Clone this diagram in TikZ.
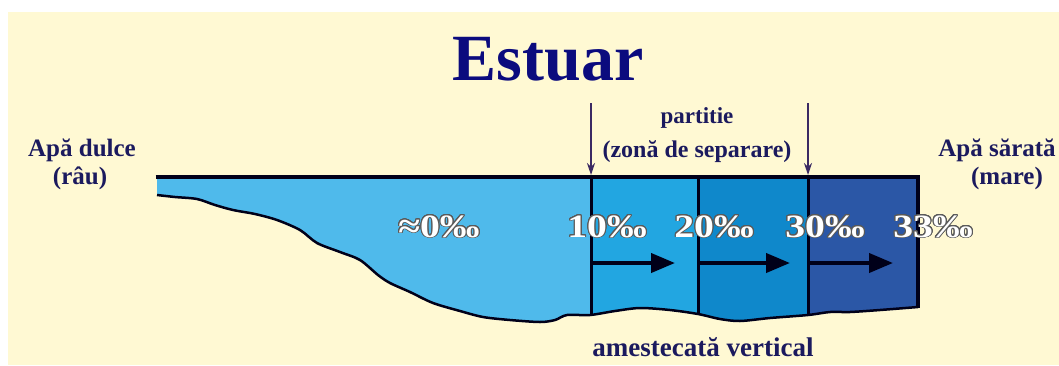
\documentclass[tikz,border=0pt]{standalone}
\usepackage{fontspec}
\setmainfont{Liberation Serif}
\usepackage{contour}
\usepackage{tikz}
\usetikzlibrary{arrows.meta,positioning}
\definecolor{cream}{HTML}{FFF9D3}
\definecolor{zone0}{HTML}{4FBAEB}
\definecolor{zone1}{HTML}{22A6E1}
\definecolor{zone2}{HTML}{0F88CB}
\definecolor{zone3}{HTML}{2B57A6}
\definecolor{titlenavy}{HTML}{0B0B7E}
\definecolor{labnavy}{HTML}{1B1A5E}
\definecolor{rodcol}{HTML}{3B2A63}
\definecolor{rim}{HTML}{5A5A5A}
\contourlength{0.8pt}
\contournumber{24}
\newcommand{\salt}[1]{\scalebox{1.28}[1.05]{\contour{rim}{\textcolor{white}{#1}}}}
% sea bed, left to right and back
\def\seabed{(157,195) (175,197) (197,199) (215,205) (233,210) (255,214) (277,220) (300,230) (317,243) (340,252) (360,260) (378,275) (390,283) (410,292) (433,303) (460,311) (483,317) (510,320) (540,322) (555,320) (567,315) (590,315) (615,311) (640,308) (670,310) (698,314) (720,319) (740,321) (770,318) (808,315) (830,312) (850,312) (880,310) (918,307)}
\def\seabedback{(918,307) (880,310) (850,312) (830,312) (808,315) (770,318) (740,321) (720,319) (698,314) (670,310) (640,308) (615,311) (590,315) (567,315) (555,320) (540,322) (510,320) (483,317) (460,311) (433,303) (410,292) (390,283) (378,275) (360,260) (340,252) (317,243) (300,230) (277,220) (255,214) (233,210) (215,205) (197,199) (175,197) (157,195)}

\begin{document}
\begin{tikzpicture}[x=1pt,y=-1pt,
    lab/.style={font=\bfseries\fontsize{25}{28}\selectfont,text=labnavy,inner sep=0pt,anchor=base},
    saltlab/.style={font=\bfseries\fontsize{31}{34}\selectfont,inner sep=0pt,anchor=base},
    flow/.style={-{Triangle[length=24pt,width=19pt]},line width=4pt,draw=black!90!blue},
    divarrow/.style={-{Stealth[length=12pt,width=8pt]},line width=1.6pt,draw=rodcol},
    rim line/.style={line width=3pt,draw=black!90!blue}]
  \useasboundingbox (0,0) rectangle (1059,365);
  \fill[cream] (8,12) rectangle (1059,365);

  % water body with salinity zones
  \begin{scope}
    \clip (157,177) -- (918,177) -- plot[smooth] coordinates {\seabedback} -- cycle;
    \foreach \a/\b/\col in {150/591/zone0, 591/698/zone1, 698/808/zone2, 808/925/zone3}{
      \fill[\col] (\a,170) rectangle (\b,330);
    }
    \foreach \x in {591,698,808}{
      \draw[rim line] (\x,177) -- (\x,330);
    }
  \end{scope}
  \draw[rim line,line width=3.5pt] (155.5,177) -- (918,177) -- (918,308);
  \draw[rim line,line width=2.5pt] plot[smooth] coordinates {\seabed};

  % titles and labels
  \node[font=\bfseries\fontsize{66}{70}\selectfont,text=titlenavy,inner sep=0pt,anchor=base] (title) at (548,80) {Estuar};
  \node[lab] (fresh) at (82,156) {Apă dulce};
  \node[lab] (river) at (80,184) {(râu)};
  \node[lab] (saltw) at (997,156) {Apă sărată};
  \node[lab] (sea) at (1007,184) {(mare)};
  \node[lab,font=\bfseries\fontsize{23}{26}\selectfont] (part) at (697,123) {partitie};
  \node[lab,font=\bfseries\fontsize{24}{26}\selectfont] (zone) at (697,157) {(zonă de separare)};
  \node[lab,font=\bfseries\fontsize{27}{30}\selectfont] (mix) at (703,356) {amestecată vertical};

  % salinity values
  \node[saltlab] (s0) at (439,237) {\salt{≈0‰}};
  \node[saltlab] (s10) at (607,237) {\salt{10‰}};
  \node[saltlab] (s20) at (714,237) {\salt{20‰}};
  \node[saltlab] (s30) at (825,237) {\salt{30‰}};
  \node[saltlab] (s33) at (933,237) {\salt{33‰}};

  % partition markers
  \coordinate (pa) at (591,103);
  \coordinate (pa') at (591,175);
  \coordinate (pb) at (808,103);
  \coordinate (pb') at (808,175);
  \draw[divarrow] (pa) -- (pa');
  \draw[divarrow] (pb) -- (pb');

  % flow arrows
  \foreach \a/\b/\n in {591/675/1, 698/790/2, 808/893/3}{
    \coordinate (f\n) at (\a,263);
    \coordinate (f\n') at (\b,263);
    \draw[flow] (f\n) -- (f\n');
  }
\end{tikzpicture}
\end{document}
